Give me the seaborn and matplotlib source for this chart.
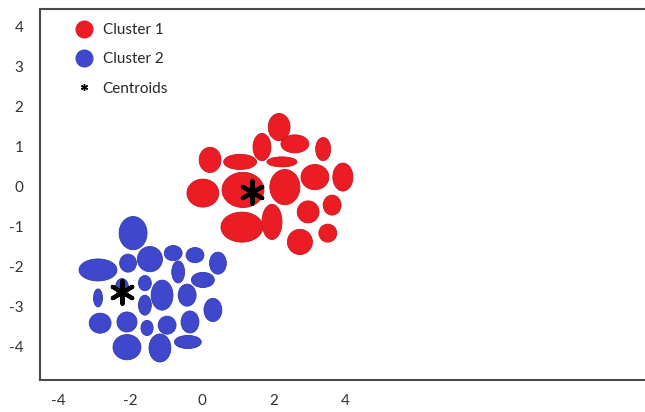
import seaborn as sns
import matplotlib.pyplot as plt
import pandas as pd
from matplotlib.patches import Ellipse
from matplotlib.lines import Line2D

RED, RED_EDGE = '#ec1c24', '#c8161d'
BLUE, BLUE_EDGE = '#3f48cc', '#3139a8'
SPINE = '#4a4a4a'

# cluster 1 (red) ellipses: centre, width, height in data units
c1_x = [2.16, 1.68, 2.60, 3.39, 0.23, 1.07, 2.24, 0.03, 1.15, 2.32, 3.16, 3.94, 1.12, 1.96, 2.97, 3.64, 2.74, 3.52]
c1_y = [1.49, 0.99, 1.07, 0.94, 0.67, 0.62, 0.62, -0.16, -0.08, -0.01, 0.24, 0.24, -1.01, -0.88, -0.63, -0.46, -1.38, -1.16]
c1_w = [0.61, 0.50, 0.78, 0.42, 0.61, 0.92, 0.84, 0.89, 1.17, 0.84, 0.78, 0.56, 1.17, 0.56, 0.61, 0.50, 0.70, 0.50]
c1_h = [0.68, 0.68, 0.45, 0.58, 0.63, 0.38, 0.25, 0.70, 0.88, 0.88, 0.63, 0.70, 0.75, 0.88, 0.55, 0.50, 0.63, 0.45]

# cluster 2 (blue)
c2_x = [-1.92, -2.90, -2.06, -1.45, -0.80, -0.19, 0.45, -0.66, 0.03, -1.59, -2.23, -2.90,
        -1.11, -0.41, -1.59, 0.31, -2.84, -2.09, -1.53, -0.97, -0.33, -0.39, -2.09, -1.17]
c2_y = [-1.16, -2.08, -1.91, -1.81, -1.66, -1.71, -1.91, -2.13, -2.33, -2.41, -2.51, -2.78,
        -2.71, -2.71, -2.96, -3.08, -3.41, -3.38, -3.53, -3.46, -3.38, -3.88, -4.01, -4.03]
c2_w = [0.78, 1.06, 0.47, 0.70, 0.50, 0.50, 0.47, 0.36, 0.64, 0.36, 0.36, 0.25,
        0.61, 0.50, 0.36, 0.50, 0.61, 0.56, 0.34, 0.50, 0.50, 0.75, 0.78, 0.61]
c2_h = [0.83, 0.55, 0.45, 0.63, 0.38, 0.38, 0.55, 0.55, 0.38, 0.38, 0.43, 0.45,
        0.75, 0.55, 0.50, 0.58, 0.50, 0.50, 0.38, 0.45, 0.55, 0.33, 0.63, 0.70]

cent_x = [1.40, -2.23]
cent_y = [-0.13, -2.63]

x_ticks = [-4, -2, 0, 2, 4]
y_ticks = [-4, -3, -2, -1, 0, 1, 2, 3, 4]

sns.set_theme(style='white')
plt.rcParams['font.family'] = ['Lato', 'DejaVu Sans']

fig = plt.figure(figsize=(6.45, 4.12), dpi=100)
ax = fig.add_axes([40 / 645, 1 - 380 / 412, 1 - 40 / 645, (380 - 9) / 412])

for xs, ys, ws, hs, fc, ec in [(c1_x, c1_y, c1_w, c1_h, RED, RED_EDGE),
                               (c2_x, c2_y, c2_w, c2_h, BLUE, BLUE_EDGE)]:
    for x, y, w, h in zip(xs, ys, ws, hs):
        ax.add_patch(Ellipse((x, y), w, h, facecolor=fc, edgecolor=ec, linewidth=0.6))

cent = pd.DataFrame({'x': cent_x, 'y': cent_y})
sns.scatterplot(data=cent, x='x', y='y', marker=(6, 2, 0), s=260, color='black',
                linewidth=3, ax=ax, legend=False, zorder=5)

ax.set_xlim(-4.52, 12.38)
ax.set_ylim(-4.83, 4.44)
ax.set_xticks(x_ticks)
ax.set_yticks(y_ticks)
ax.set_xticklabels([str(t) for t in x_ticks])
ax.set_yticklabels([str(t) for t in y_ticks])
ax.tick_params(axis='both', length=0, labelsize=11, labelcolor='#333333')
ax.tick_params(axis='x', pad=10)
ax.tick_params(axis='y', pad=12)
ax.set_xlabel('')
ax.set_ylabel('')

for side in ['left', 'bottom', 'top']:
    ax.spines[side].set_color(SPINE)
    ax.spines[side].set_linewidth(1.5)
ax.spines['right'].set_visible(False)

handles = [
    Line2D([], [], marker='o', linestyle='', markersize=12, color=RED),
    Line2D([], [], marker='o', linestyle='', markersize=12, color=BLUE),
    Line2D([], [], marker=(6, 2, 0), linestyle='', markersize=5, color='black', markeredgewidth=1),
]
ax.legend(handles, ['Cluster 1', 'Cluster 2', 'Centroids'], loc='upper left',
          bbox_to_anchor=(76 / 645, 1 - 23 / 412), bbox_transform=fig.transFigure,
          frameon=False, fontsize=11, handlelength=1, handletextpad=0.75,
          labelspacing=1.0, borderpad=0, borderaxespad=0)

plt.savefig('out.png', dpi=100, facecolor='white')
